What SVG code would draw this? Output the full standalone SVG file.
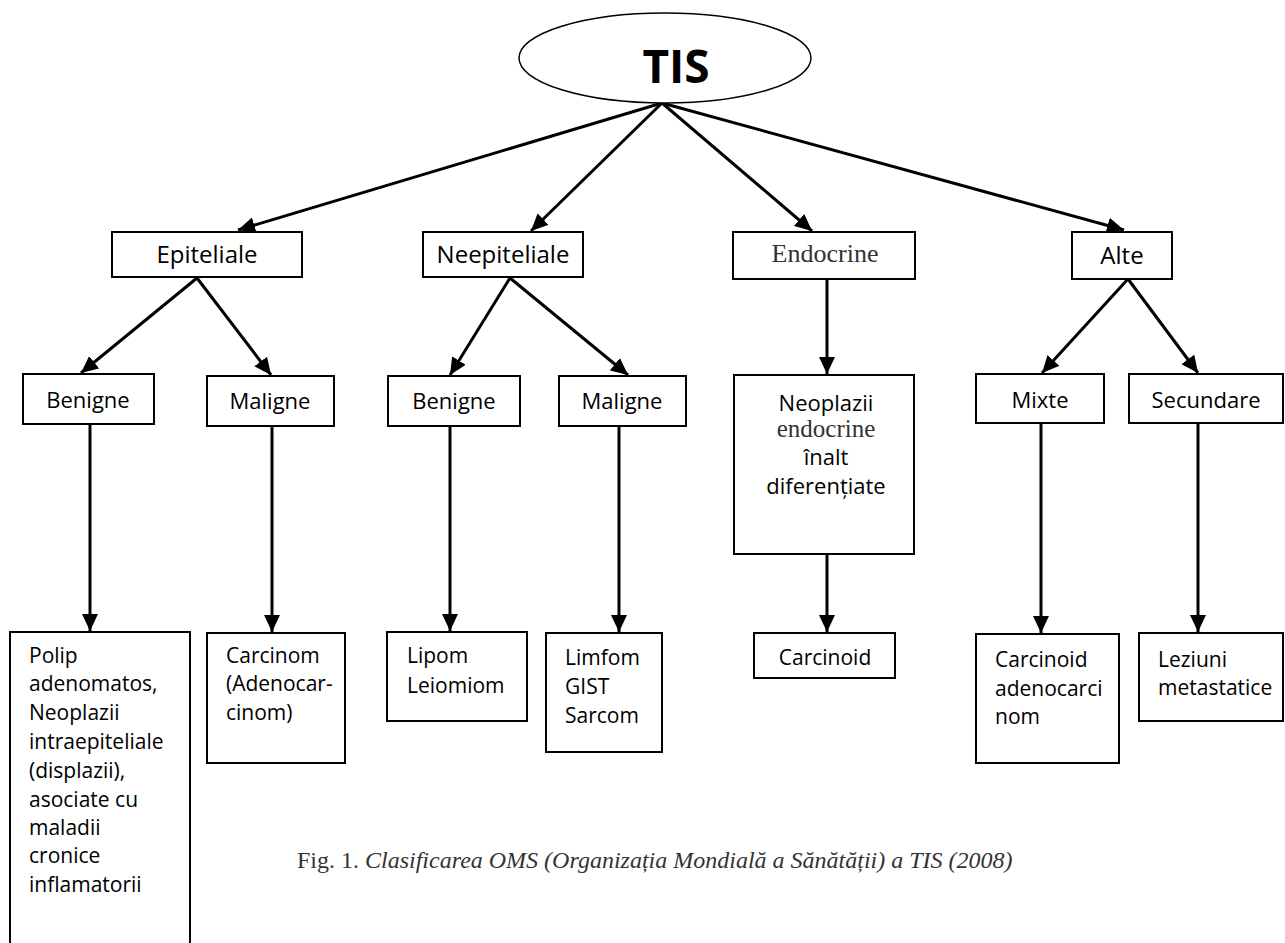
<svg xmlns="http://www.w3.org/2000/svg" width="1285" height="943" viewBox="0 0 1285 943">
<style>
.box{fill:#fff;stroke:#000;stroke-width:2}
.t{font-family:"Open Sans","Liberation Sans",sans-serif;fill:#000}
.s{font-family:"Liberation Serif","Times New Roman",serif;fill:#333}
.c{stroke:#000;stroke-width:3;fill:none}
</style>
<defs>
<marker id="ah" markerUnits="userSpaceOnUse" markerWidth="18" markerHeight="16" refX="17" refY="8" orient="auto">
<path d="M0,0 L17,8 L0,16 z" fill="#000"/>
</marker>
</defs>
<rect width="1285" height="943" fill="#fff"/>
<g id="connectors">
<line class="c" x1="662" y1="103" x2="238" y2="230" marker-end="url(#ah)"/>
<line class="c" x1="662" y1="103" x2="531" y2="231" marker-end="url(#ah)"/>
<line class="c" x1="662" y1="103" x2="812" y2="231" marker-end="url(#ah)"/>
<line class="c" x1="662" y1="103" x2="1124" y2="230" marker-end="url(#ah)"/>
<line class="c" x1="197" y1="278" x2="81" y2="373" marker-end="url(#ah)"/>
<line class="c" x1="197" y1="278" x2="271" y2="375" marker-end="url(#ah)"/>
<line class="c" x1="510" y1="278" x2="450" y2="375" marker-end="url(#ah)"/>
<line class="c" x1="510" y1="278" x2="628" y2="375" marker-end="url(#ah)"/>
<line class="c" x1="827" y1="279" x2="827" y2="374" marker-end="url(#ah)"/>
<line class="c" x1="1128" y1="279" x2="1042" y2="373" marker-end="url(#ah)"/>
<line class="c" x1="1128" y1="279" x2="1198" y2="373" marker-end="url(#ah)"/>
<line class="c" x1="90" y1="425" x2="90" y2="631" marker-end="url(#ah)"/>
<line class="c" x1="272" y1="427" x2="272" y2="632" marker-end="url(#ah)"/>
<line class="c" x1="450" y1="427" x2="450" y2="631" marker-end="url(#ah)"/>
<line class="c" x1="619" y1="427" x2="619" y2="632" marker-end="url(#ah)"/>
<line class="c" x1="827" y1="554" x2="827" y2="632" marker-end="url(#ah)"/>
<line class="c" x1="1041" y1="424" x2="1041" y2="633" marker-end="url(#ah)"/>
<line class="c" x1="1198" y1="424" x2="1198" y2="632" marker-end="url(#ah)"/>
</g>
<g id="tis">
<ellipse cx="665" cy="58" rx="146" ry="45" fill="#fff" stroke="#000" stroke-width="1.5"/>
<text class="t" x="676" y="83" font-size="46" font-weight="bold" text-anchor="middle">TIS</text>
</g>
<g id="epiteliale">
<rect class="box" x="112" y="232" width="190" height="45"/>
<text class="t" x="207" y="263" font-size="24" text-anchor="middle">Epiteliale</text>
</g>
<g id="neepiteliale">
<rect class="box" x="423" y="232" width="160" height="45"/>
<text class="t" x="503" y="263" font-size="24" text-anchor="middle">Neepiteliale</text>
</g>
<g id="endocrine">
<rect class="box" x="733" y="232" width="182" height="47"/>
<text class="s" x="825" y="262" font-size="26" text-anchor="middle">Endocrine</text>
</g>
<g id="alte">
<rect class="box" x="1072" y="232" width="100" height="47"/>
<text class="t" x="1122" y="264" font-size="24" text-anchor="middle">Alte</text>
</g>
<g id="benigne1">
<rect class="box" x="23" y="374" width="131" height="50"/>
<text class="t" x="88" y="408" font-size="22" text-anchor="middle">Benigne</text>
</g>
<g id="maligne1">
<rect class="box" x="207" y="376" width="127" height="50"/>
<text class="t" x="270" y="409" font-size="22" text-anchor="middle">Maligne</text>
</g>
<g id="benigne2">
<rect class="box" x="388" y="376" width="132" height="50"/>
<text class="t" x="454" y="409" font-size="22" text-anchor="middle">Benigne</text>
</g>
<g id="maligne2">
<rect class="box" x="559" y="376" width="127" height="50"/>
<text class="t" x="622" y="409" font-size="22" text-anchor="middle">Maligne</text>
</g>
<g id="neoplazii">
<rect class="box" x="734" y="375" width="180" height="179"/>
<text class="t" x="826" y="411" font-size="22" text-anchor="middle">Neoplazii</text>
<text class="s" x="826" y="437" font-size="25" text-anchor="middle">endocrine</text>
<text class="t" x="826" y="465" font-size="22" text-anchor="middle">înalt</text>
<text class="t" x="826" y="494" font-size="22" text-anchor="middle">diferențiate</text>
</g>
<g id="mixte">
<rect class="box" x="976" y="374" width="128" height="49"/>
<text class="t" x="1040" y="408" font-size="22" text-anchor="middle">Mixte</text>
</g>
<g id="secundare">
<rect class="box" x="1129" y="374" width="154" height="49"/>
<text class="t" x="1206" y="408" font-size="22" text-anchor="middle">Secundare</text>
</g>
<g id="polip">
<rect class="box" x="10" y="632" width="180" height="320"/>
<text class="t" font-size="21"><tspan x="29" y="663">Polip</tspan><tspan x="29" y="691">adenomatos,</tspan><tspan x="29" y="720">Neoplazii</tspan><tspan x="29" y="749">intraepiteliale</tspan><tspan x="29" y="778">(displazii),</tspan><tspan x="29" y="807">asociate cu</tspan><tspan x="29" y="835">maladii</tspan><tspan x="29" y="863">cronice</tspan><tspan x="29" y="892">inflamatorii</tspan></text>
</g>
<g id="carcinom">
<rect class="box" x="207" y="633" width="138" height="130"/>
<text class="t" font-size="21"><tspan x="226" y="663">Carcinom</tspan><tspan x="226" y="691">(Adenocar-</tspan><tspan x="226" y="720">cinom)</tspan></text>
</g>
<g id="lipom">
<rect class="box" x="387" y="632" width="140" height="89"/>
<text class="t" font-size="21"><tspan x="407" y="663">Lipom</tspan><tspan x="407" y="693">Leiomiom</tspan></text>
</g>
<g id="limfom">
<rect class="box" x="546" y="633" width="116" height="119"/>
<text class="t" font-size="21"><tspan x="565" y="665">Limfom</tspan><tspan x="565" y="694">GIST</tspan><tspan x="565" y="723">Sarcom</tspan></text>
</g>
<g id="carcinoid">
<rect class="box" x="754" y="633" width="141" height="45"/>
<text class="t" x="825" y="665" font-size="21" text-anchor="middle">Carcinoid</text>
</g>
<g id="carcinoid-adeno">
<rect class="box" x="976" y="634" width="143" height="129"/>
<text class="t" font-size="21"><tspan x="995" y="667">Carcinoid</tspan><tspan x="995" y="696">adenocarci</tspan><tspan x="995" y="724">nom</tspan></text>
</g>
<g id="leziuni">
<rect class="box" x="1139" y="633" width="144" height="88"/>
<text class="t" font-size="21"><tspan x="1158" y="667">Leziuni</tspan><tspan x="1158" y="695">metastatice</tspan></text>
</g>
<text x="297" y="868" font-family="Liberation Serif, Times New Roman, serif" font-size="24" fill="#333">Fig. 1. <tspan font-style="italic">Clasificarea OMS (Organizația Mondială a Sănătății) a TIS (2008)</tspan></text>
</svg>
